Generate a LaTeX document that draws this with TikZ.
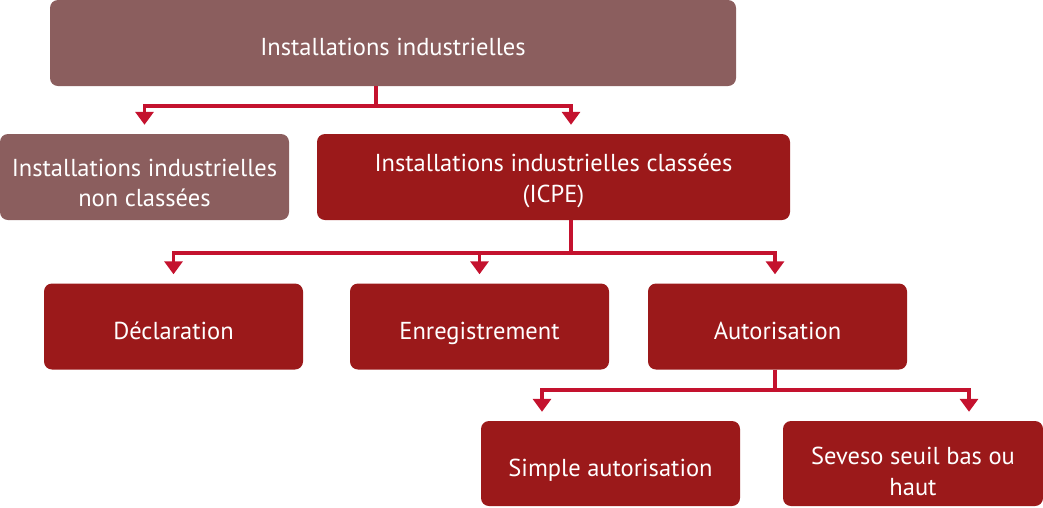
\documentclass[tikz,border=0pt]{standalone}
\usepackage{fontspec}
\setmainfont{PT Sans}
\usetikzlibrary{arrows.meta}
\definecolor{brun}{RGB}{139,94,94}
\definecolor{rouge}{RGB}{155,25,26}
\definecolor{trait}{RGB}{196,18,46}

\begin{document}
\begin{tikzpicture}[x=1pt,y=-1pt,line join=miter,
    boite/.style={rounded corners=8pt,text=white,align=center,inner sep=0pt,
      font=\fontsize{24.5}{30.5}\selectfont,text height=25pt,text depth=0pt},
    deuxlignes/.style={text height=63pt,text depth=0pt},
    lien/.style={line width=3.4pt,color=trait},
    fleche/.style={lien,-{Triangle[width=18pt,length=13pt]},shorten >=9pt}]

    \useasboundingbox (0,0) rectangle (1043,507);

    % boites
    \node[boite,fill=brun,minimum width=686pt,minimum height=86pt] (inst) at (393,43) {Installations industrielles};

    \node[boite,deuxlignes,text height=59pt,fill=brun,minimum width=289pt,minimum height=86pt] (nonclass) at (144.5,177) {Installations industrielles\\non classées};
    \node[boite,deuxlignes,text height=50pt,fill=rouge,minimum width=473pt,minimum height=86pt] (icpe) at (553.5,177) {Installations industrielles classées\\(ICPE)};

    \node[boite,fill=rouge,minimum width=259pt,minimum height=86pt] (decl) at (173.5,326.5) {Déclaration};
    \node[boite,fill=rouge,minimum width=259pt,minimum height=86pt] (enreg) at (479.5,326.5) {Enregistrement};
    \node[boite,fill=rouge,minimum width=259pt,minimum height=86pt] (autor) at (777.5,326.5) {Autorisation};

    \node[boite,fill=rouge,minimum width=259pt,minimum height=85pt] (simple) at (610.5,463.5) {Simple autorisation};
    \node[boite,deuxlignes,fill=rouge,minimum width=260pt,minimum height=85pt] (seveso) at (913,463.5) {Seveso seuil bas ou\\haut};

    % liaisons
    \coordinate (j1) at (376,106);
    \coordinate (j2) at (571,253);
    \coordinate (j3) at (775,390);

    \draw[lien] (inst.south -| j1) -- (j1);
    \draw[fleche] (j1) -| (nonclass.north);
    \draw[fleche] (j1) -| ([xshift=17.5pt]icpe.north);

    \draw[lien] (icpe.south -| j2) -- (j2);
    \draw[fleche] (j2) -| (decl.north);
    \draw[fleche] (j2) -| (enreg.north);
    \draw[fleche] (j2) -| ([xshift=-2.5pt]autor.north);

    \draw[lien] (autor.south -| j3) -- (j3);
    \draw[fleche] (j3) -| ([xshift=-68.5pt]simple.north);
    \draw[fleche] (j3) -| ([xshift=56pt]seveso.north);
\end{tikzpicture}
\end{document}
